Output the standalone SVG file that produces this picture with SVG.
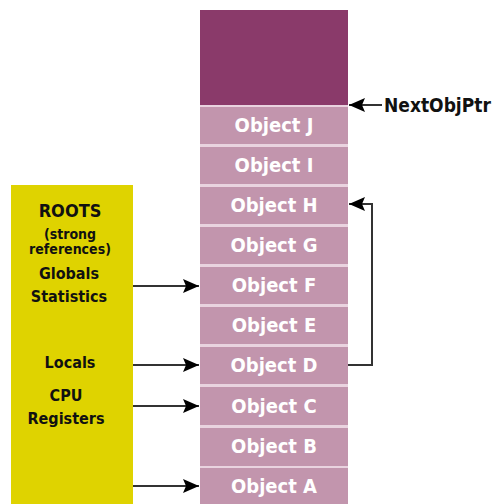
<svg xmlns="http://www.w3.org/2000/svg" width="493" height="504" viewBox="0 0 493 504">
<style>
.cell{fill:#C295AD}
.lbl{font-family:"DejaVu Sans Condensed","DejaVu Sans",sans-serif;font-weight:bold;fill:#FFFFFF;font-size:20px;text-anchor:middle}
.root{font-family:"DejaVu Sans Condensed","DejaVu Sans",sans-serif;font-weight:bold;fill:#111111;text-anchor:middle}
.ln{stroke:#333333;stroke-width:2;fill:none}
</style>
<defs>
<marker id="ah" markerWidth="16" markerHeight="14" refX="16" refY="7" orient="auto" markerUnits="userSpaceOnUse">
<path d="M0,0 L16,7 L0,14 L3,7 z" fill="#000"/>
</marker>
</defs>
<rect width="493" height="504" fill="#FFFFFF"/>
<g id="heap">
<rect x="200" y="10" width="148" height="494" fill="#E9D3DF"/>
<rect x="200" y="10" width="148" height="95" fill="#8A3A6A"/>
</g>
<g id="objJ"><rect class="cell" x="200" y="107" width="148" height="37"/><text class="lbl" x="274" y="132">Object J</text></g>
<g id="objI"><rect class="cell" x="200" y="147" width="148" height="37"/><text class="lbl" x="274" y="172">Object I</text></g>
<g id="objH"><rect class="cell" x="200" y="187" width="148" height="37"/><text class="lbl" x="274" y="212">Object H</text></g>
<g id="objG"><rect class="cell" x="200" y="227" width="148" height="37"/><text class="lbl" x="274" y="252">Object G</text></g>
<g id="objF"><rect class="cell" x="200" y="267" width="148" height="37"/><text class="lbl" x="274" y="292">Object F</text></g>
<g id="objE"><rect class="cell" x="200" y="307" width="148" height="37"/><text class="lbl" x="274" y="332">Object E</text></g>
<g id="objD"><rect class="cell" x="200" y="347" width="148" height="37"/><text class="lbl" x="274" y="372">Object D</text></g>
<g id="objC"><rect class="cell" x="200" y="387" width="148" height="38"/><text class="lbl" x="274" y="413">Object C</text></g>
<g id="objB"><rect class="cell" x="200" y="428" width="148" height="38"/><text class="lbl" x="274" y="453">Object B</text></g>
<g id="objA"><rect class="cell" x="200" y="468" width="148" height="36"/><text class="lbl" x="274" y="493">Object A</text></g>
<g id="roots">
<rect x="11" y="185" width="122" height="319" fill="#DFD300"/>
<text class="root" x="70" y="217" font-size="18">ROOTS</text>
<text class="root" x="70" y="239" font-size="14">(strong</text>
<text class="root" x="70" y="254" font-size="14">references)</text>
<text class="root" x="69" y="279" font-size="16">Globals</text>
<text class="root" x="69" y="302" font-size="16">Statistics</text>
<text class="root" x="70" y="368" font-size="16">Locals</text>
<text class="root" x="66" y="401" font-size="16">CPU</text>
<text class="root" x="66" y="424" font-size="16">Registers</text>
</g>
<g id="nextobjptr">
<text x="384" y="112" font-family="DejaVu Sans Condensed,DejaVu Sans,sans-serif" font-weight="bold" font-size="19" fill="#111">NextObjPtr</text>
</g>
<g id="connectors">
<line class="ln" x1="133" y1="286" x2="199" y2="286" stroke="#555" marker-end="url(#ah)"/>
<line class="ln" x1="133" y1="365" x2="199" y2="365" stroke="#000" stroke-width="1.5" marker-end="url(#ah)"/>
<line class="ln" x1="133" y1="406" x2="199" y2="406" stroke="#555" marker-end="url(#ah)"/>
<line class="ln" x1="133" y1="486" x2="199" y2="486" stroke="#555" marker-end="url(#ah)"/>
<line class="ln" x1="382" y1="105" x2="349" y2="105" stroke="#000" marker-end="url(#ah)"/>
<polyline class="ln" points="348,365 372,365 372,204 349,204" marker-end="url(#ah)"/>
</g>
</svg>
